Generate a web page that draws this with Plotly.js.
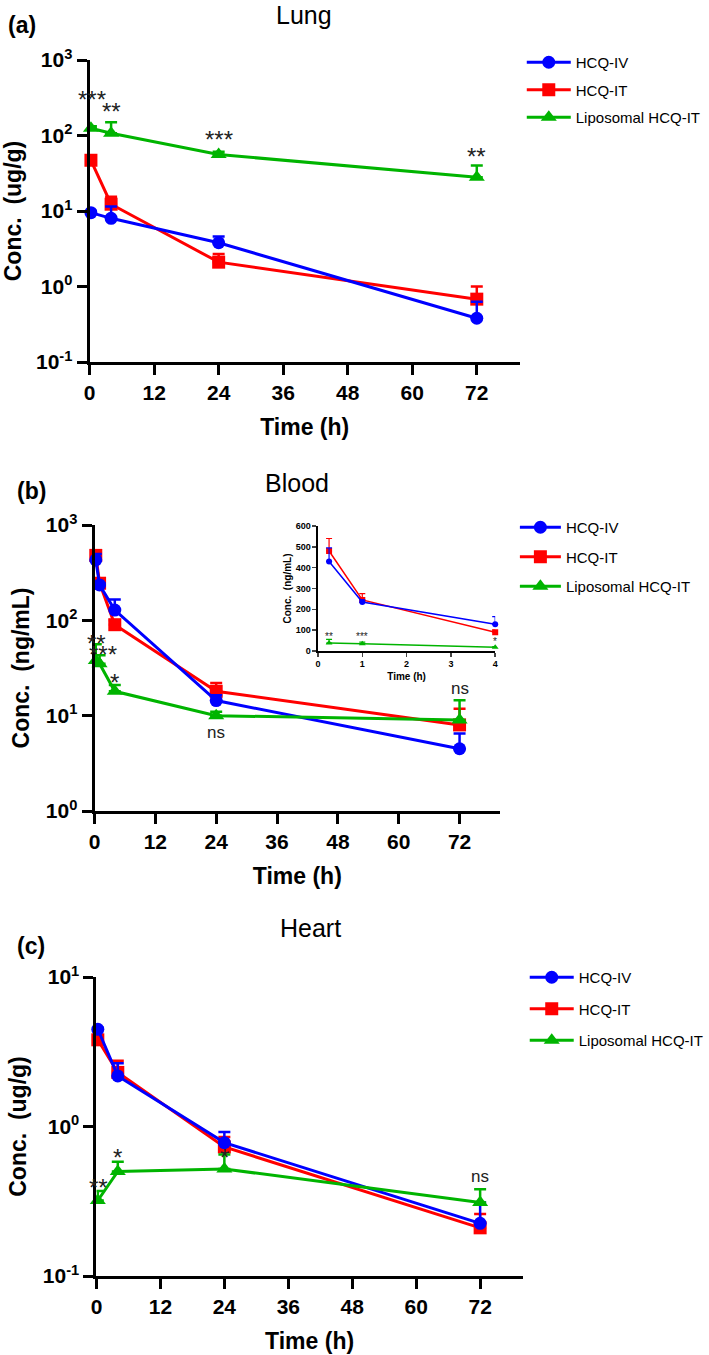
<!DOCTYPE html>
<html><head><meta charset="utf-8">
<script src="https://cdn.plot.ly/plotly-3.0.1.min.js"></script>
<style>body{margin:0;background:#fff}#chart{width:709px;height:1355px}</style>
</head><body><div id="chart"></div>
<script>
// ---------- series names ----------
const seriesNames = ['HCQ-IV', 'HCQ-IT', 'Liposomal HCQ-IT'];

// ---------- (a) Lung, ug/g ----------
const lungTime = [0.25, 4, 24, 72];
const lungIV = [9.5, 8.0, 3.8, 0.38];
const lungIVErr = [0.5, 3.5, 0.8, 0.25];
const lungIT = [47, 12.3, 2.1, 0.68];
const lungITErr = [3, 3.2, 0.6, 0.32];
const lungLipo = [125, 107, 56, 28];
const lungLipoErr = [8, 43, 5, 12];
const lungSigText = ['***', '**', '***', '**'];
const lungSigTime = [0.4, 4, 24, 72];
const lungSigValue = [300, 205, 89, 52];

// ---------- (b) Blood, ng/mL ----------
const bloodTime = [0.25, 1, 4, 24, 72];
const bloodIV = [430, 235, 128, 14.4, 4.5];
const bloodIVErr = [65, 10, 37, 2, 2];
const bloodIT = [480, 245, 90, 18, 8];
const bloodITErr = [60, 30, 10, 4, 3.8];
const bloodLipo = [38, 35, 18, 10, 9];
const bloodLipoErr = [18, 8, 3, 1, 5.5];
const bloodSigText = ['**', '***', '*', 'ns', 'ns'];
const bloodSigTime = [0.3, 1.6, 4, 24, 72];
const bloodSigValue = [57, 44, 22.4, 6.6, 19.5];
// inset (linear, first 4 h)
const insetMaxTime = 4;
const insetSigText = ['**', '***', '*'];
const insetSigTime = [0.25, 1, 4];
const insetSigValue = [68, 68, 48];

// ---------- (c) Heart, ug/g ----------
const heartTime = [0.25, 4, 24, 72];
const heartIV = [4.47, 2.18, 0.78, 0.225];
const heartIVErr = [0.1, 0.47, 0.14, 0.085];
const heartIT = [3.8, 2.3, 0.73, 0.21];
const heartITErr = [0.1, 0.45, 0.12, 0.05];
const heartLipo = [0.32, 0.5, 0.52, 0.31];
const heartLipoErr = [0.05, 0.08, 0.13, 0.07];
const heartSigText = ['**', '*', '*', 'ns'];
const heartSigTime = [0.4, 4, 24, 72];
const heartSigValue = [0.39, 0.62, 0.62, 0.46];

// ---------- ticks ----------
const timeTicks = [0, 12, 24, 36, 48, 60, 72];
const lungTickVals = [0.1, 1, 10, 100, 1000];
const lungTickText = ['10<sup>-1</sup>', '10<sup>0</sup>', '10<sup>1</sup>', '10<sup>2</sup>', '10<sup>3</sup>'];
const bloodTickVals = [1, 10, 100, 1000];
const bloodTickText = ['10<sup>0</sup>', '10<sup>1</sup>', '10<sup>2</sup>', '10<sup>3</sup>'];
const heartTickVals = [0.1, 1, 10];
const heartTickText = ['10<sup>-1</sup>', '10<sup>0</sup>', '10<sup>1</sup>'];
const insetTimeTicks = [0, 1, 2, 3, 4];
const insetConcTicks = [0, 100, 200, 300, 400, 500, 600];

// ---------- styles ----------
const COLORS = ['#0000ff', '#ff0000', '#00b400'];
const SYMBOLS = ['circle', 'square', 'triangle-up'];
const FONT = 'Liberation Sans, Arial, sans-serif';
const W = 709, H = 1355;
const px = v => v / W, py = v => 1 - v / H;

const traces = [];
function addPanel(time, sets, xa, ya, legendId, showLegend, small) {
  const order = [1, 0, 2];
  order.forEach(i => {
    const s = sets[i];
    traces.push({
      type: 'scatter', mode: 'lines+markers',
      x: time, y: s.y, name: seriesNames[i],
      xaxis: xa, yaxis: ya, cliponaxis: false,
      legend: legendId, legendgroup: legendId + i, legendrank: i + 1,
      showlegend: showLegend,
      line: {color: COLORS[i], width: small ? 1.5 : 3},
      marker: {color: COLORS[i], symbol: SYMBOLS[i], size: small ? 6 : (i === 2 ? 14 : 13)},
      error_y: {type: 'data', symmetric: false, array: s.e, arrayminus: s.e.map(() => 0),
                color: COLORS[i], thickness: small ? 1.2 : 2.5, width: small ? 3 : 6},
      hoverinfo: 'x+y+name'
    });
  });
}
addPanel(lungTime, [{y: lungIV, e: lungIVErr}, {y: lungIT, e: lungITErr}, {y: lungLipo, e: lungLipoErr}], 'x', 'y', 'legend', true, false);
addPanel(bloodTime, [{y: bloodIV, e: bloodIVErr}, {y: bloodIT, e: bloodITErr}, {y: bloodLipo, e: bloodLipoErr}], 'x2', 'y2', 'legend2', true, false);
addPanel(heartTime, [{y: heartIV, e: heartIVErr}, {y: heartIT, e: heartITErr}, {y: heartLipo, e: heartLipoErr}], 'x3', 'y3', 'legend3', true, false);
const keep = bloodTime.map(t => t <= insetMaxTime);
const f = arr => arr.filter((_, k) => keep[k]);
addPanel(f(bloodTime), [{y: f(bloodIV), e: f(bloodIVErr)}, {y: f(bloodIT), e: f(bloodITErr)}, {y: f(bloodLipo), e: f(bloodLipoErr)}], 'x4', 'y4', 'legend2', false, true);

const tickFont = {family: FONT, size: 21, color: '#000', weight: 'bold'};
const titleFont = {family: FONT, size: 23, color: '#000', weight: 'bold'};
function xAxis(domain, anchor) {
  return {domain, anchor, range: [0, 80], tickmode: 'array', tickvals: timeTicks,
    showline: true, linewidth: 3, linecolor: '#000', ticks: 'outside', ticklen: 10, tickwidth: 3, tickcolor: '#000',
    showgrid: false, zeroline: false, tickfont: tickFont,
    title: {text: 'Time (h)', font: titleFont, standoff: 16}};
}
function yAxis(domain, anchor, range, vals, text, title) {
  return {domain, anchor, type: 'log', range, tickmode: 'array', tickvals: vals, ticktext: text,
    showline: true, linewidth: 3, linecolor: '#000', ticks: 'outside', ticklen: 10, tickwidth: 3, tickcolor: '#000',
    showgrid: false, zeroline: false, tickfont: tickFont,
    title: {text: title, font: titleFont, standoff: 10}};
}

const annotations = [];
function sigAnn(texts, times, vals, xref, yref, logY, size) {
  texts.forEach((t, k) => annotations.push({
    xref, yref, x: times[k], y: logY ? Math.log10(vals[k]) : vals[k], text: t, showarrow: false,
    font: {family: FONT, size: t === 'ns' ? Math.round(size * 0.72) : size, color: '#222'}, xanchor: 'center', yanchor: 'middle'
  }));
}
sigAnn(lungSigText, lungSigTime, lungSigValue, 'x', 'y', true, 24);
sigAnn(bloodSigText, bloodSigTime, bloodSigValue, 'x2', 'y2', true, 24);
sigAnn(heartSigText, heartSigTime, heartSigValue, 'x3', 'y3', true, 24);
sigAnn(insetSigText, insetSigTime, insetSigValue, 'x4', 'y4', false, 10);

const panelTitles = [['Lung', 309, 15], ['Blood', 302, 483], ['Heart', 315, 928]];
panelTitles.forEach(([t, x, y]) => annotations.push({xref: 'paper', yref: 'paper', x: px(x), y: py(y), text: t,
  showarrow: false, font: {family: FONT, size: 25, color: '#000'}, xanchor: 'center', yanchor: 'middle'}));
const panelLetters = [['(a)', 22, 25], ['(b)', 32, 491], ['(c)', 31, 946]];
panelLetters.forEach(([t, x, y]) => annotations.push({xref: 'paper', yref: 'paper', x: px(x), y: py(y), text: t,
  showarrow: false, font: {family: FONT, size: 23, color: '#000', weight: 'bold'}, xanchor: 'center', yanchor: 'middle'}));

function legendAt(x, yTop, gap, itemwidth) {
  return {x: px(x), y: py(yTop), xanchor: 'left', yanchor: 'top', bgcolor: 'rgba(0,0,0,0)',
    font: {family: FONT, size: 15, color: '#000'}, traceorder: 'grouped', tracegroupgap: gap, itemwidth};
}

const smallTick = {family: FONT, size: 9, color: '#000', weight: 'bold'};
const layout = {
  width: W, height: H, margin: {l: 0, r: 0, t: 0, b: 0}, autosize: false,
  paper_bgcolor: '#fff', plot_bgcolor: 'rgba(0,0,0,0)', showlegend: true,
  xaxis: xAxis([px(91), px(528)], 'y'),
  yaxis: yAxis([py(362), py(60)], 'x', [-1, 3], lungTickVals, lungTickText, 'Conc.  (ug/g)'),
  xaxis2: xAxis([px(96), px(508)], 'y2'),
  yaxis2: yAxis([py(811), py(525)], 'x2', [0, 3], bloodTickVals, bloodTickText, 'Conc.  (ng/mL)'),
  xaxis3: xAxis([px(98), px(531)], 'y3'),
  yaxis3: yAxis([py(1276), py(977)], 'x3', [-1, 1], heartTickVals, heartTickText, 'Conc.  (ug/g)'),
  xaxis4: {domain: [px(323), px(503)], anchor: 'y4', range: [0, 4], tickmode: 'array', tickvals: insetTimeTicks,
    showline: true, linewidth: 1.5, linecolor: '#000', ticks: 'outside', ticklen: 4, tickwidth: 1.5,
    showgrid: false, zeroline: false, tickfont: smallTick,
    title: {text: 'Time (h)', font: {family: FONT, size: 10, color: '#000', weight: 'bold'}, standoff: 4}},
  yaxis4: {domain: [py(651), py(526)], anchor: 'x4', range: [0, 600], tickmode: 'array', tickvals: insetConcTicks,
    showline: true, linewidth: 1.5, linecolor: '#000', ticks: 'outside', ticklen: 4, tickwidth: 1.5,
    showgrid: false, zeroline: false, tickfont: smallTick,
    title: {text: 'Conc.  (ng/mL)', font: {family: FONT, size: 10, color: '#000', weight: 'bold'}, standoff: 2}},
  legend: legendAt(530, 46, 5, 44),
  legend2: legendAt(523, 511, 7, 41),
  legend3: legendAt(533, 961, 9, 44),
  annotations
};
Plotly.newPlot('chart', traces, layout, {displayModeBar: false, staticPlot: true});
</script></body></html>
